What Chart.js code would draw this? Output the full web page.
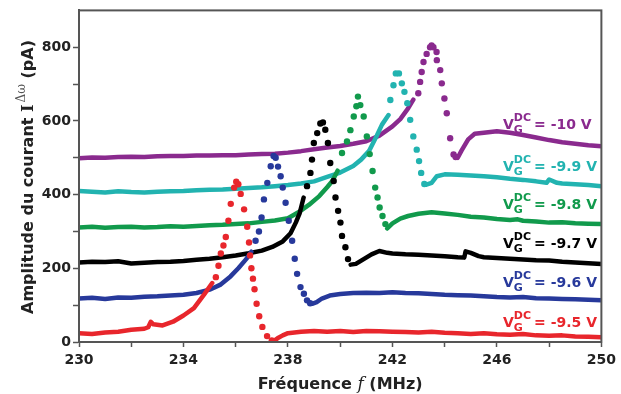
<!DOCTYPE html>
<html>
<head>
<meta charset="utf-8">
<script src="https://cdn.jsdelivr.net/npm/chart.js@4.4.1/dist/chart.umd.min.js"></script>
<style>
  html, body { margin: 0; padding: 0; background: #fff; }
  #wrap { width: 621px; height: 394px; position: relative; }
</style>
</head>
<body>
<div id="wrap"><canvas id="respChart"></canvas></div>
<script>
// frequency axis (MHz) and amplitude axis (pA)
const freqMin = 230, freqMax = 250;
const ampMin = 0, ampMax = 900;

// gate voltages, one curve each
const voltages = ['-9.5 V', '-9.6 V', '-9.7 V', '-9.8 V', '-9.9 V', '-10 V'];
const colors = ['#e8262c', '#27399b', '#000000', '#119a4c', '#22b3b0', '#8a2a8e'];

// [f, amplitude] ; third value 1 = isolated measured dot (fast sweep region)
const vg95 = [
  [230,24],[230.5,22],[231,26],[231.5,28],[232,33],[232.5,36],[232.65,40],[232.75,55],[232.85,48],[233.2,45],
  [233.6,55],[234,72],[234.4,92],[234.8,130],[235.1,160],
  [235.24,176,1],[235.34,207,1],[235.43,240,1],[235.53,262,1],[235.62,285,1],[235.72,329,1],[235.81,375,1],
  [235.94,419,1],[236.02,435,1],[236.1,428,1],[236.19,402,1],[236.32,360,1],[236.44,313,1],[236.51,270,1],
  [236.55,235,1],[236.6,200,1],[236.66,172,1],[236.72,143,1],[236.8,104,1],[236.9,70,1],[237.02,41,1],
  [237.2,16,1],[237.38,4,1],
  [237.46,3],[237.6,10],[237.8,18],[238,24],[238.5,28],[239,30],[239.5,28],[240,30],[240.5,27],[241,30],
  [241.5,29],[242,28],[242.5,27],[243,26],[243.5,28],[244,25],[244.5,24],[245,22],[245.5,24],[246,21],
  [246.5,20],[247,22],[247.5,18],[248,17],[248.5,18],[249,15],[249.5,14],[250,13]
];
const vg96 = [
  [230,118],[230.5,120],[231,117],[231.5,121],[232,120],[232.5,123],[233,124],[233.5,126],[234,128],[234.5,133],
  [235,142],[235.4,155],[235.8,178],[236.1,200],[236.4,225],[236.6,245],
  [236.76,275,1],[236.89,300,1],[236.99,338,1],[237.08,387,1],[237.21,432,1],[237.34,477,1],[237.45,505,1],
  [237.53,500,1],[237.62,476,1],[237.72,450,1],[237.8,419,1],[237.91,378,1],[238.03,329,1],[238.16,275,1],
  [238.26,226,1],[238.35,185,1],[238.48,149,1],[238.61,131,1],[238.73,113,1],[238.85,105,1],
  [238.95,104],[239.1,108],[239.3,118],[239.6,126],[240,130],[240.5,133],[241,134],[241.5,133],[242,135],
  [242.5,133],[243,132],[243.5,130],[244,128],[244.5,127],[245,126],[245.5,124],[246,122],[246.5,121],
  [247,122],[247.5,119],[248,118],[248.5,117],[249,116],[249.5,115],[250,113]
];
const vg97 = [
  [230,216],[230.5,218],[231,217],[231.5,219],[232,213],[232.5,215],[233,217],[233.5,218],[234,220],[234.5,223],
  [235,226],[235.5,230],[236,235],[236.5,241],[237,248],[237.4,258],[237.8,273],[238.1,295],[238.3,324],
  [238.45,350],[238.6,392],
  [238.73,423,1],[238.86,459,1],[238.92,495,1],[238.99,540,1],[239.12,567,1],[239.24,593,1],[239.34,596,1],
  [239.43,576,1],[239.53,540,1],[239.62,486,1],[239.75,437,1],[239.82,392,1],[239.92,356,1],[240.01,324,1],
  [240.07,288,1],[240.2,257,1],[240.3,225,1],
  [240.4,210],[240.6,212],[240.9,225],[241.2,238],[241.5,247],[241.8,242],[242,240],[242.5,238],[243,237],
  [243.5,235],[244,233],[244.5,230],[244.75,229],[244.8,246],[245,242],[245.3,233],[245.5,230],[246,228],
  [246.5,226],[247,224],[247.5,222],[248,221],[248.5,218],[249,216],[249.5,214],[250,212]
];
const vg98 = [
  [230,311],[230.5,313],[231,310],[231.5,312],[232,313],[232.5,311],[233,312],[233.5,314],[234,313],[234.5,315],
  [235,317],[235.5,318],[236,320],[236.5,322],[237,326],[237.5,330],[238,336],[238.4,352],[238.8,372],
  [239.2,396],[239.5,420],[239.7,437],[239.9,465],
  [240.07,513,1],[240.26,544,1],[240.39,575,1],[240.52,612,1],[240.62,640,1],[240.68,666,1],[240.77,643,1],
  [240.9,612,1],[241.02,558,1],[241.13,510,1],[241.24,464,1],[241.34,419,1],[241.43,392,1],[241.51,365,1],
  [241.62,342,1],[241.73,320,1],
  [241.8,308],[242,322],[242.3,335],[242.6,342],[243,348],[243.5,352],[244,349],[244.5,345],[245,340],
  [245.5,338],[246,334],[246.5,331],[246.8,333],[247,329],[247.5,327],[248,324],[248.5,325],[249,322],
  [249.5,321],[250,320]
];
const vg99 = [
  [230,410],[230.5,408],[231,406],[231.5,409],[232,407],[232.5,406],[233,408],[233.5,409],[234,410],[234.5,412],
  [235,413],[235.5,414],[236,416],[236.5,418],[237,420],[237.5,423],[238,426],[238.5,430],[239,436],
  [239.5,448],[240,460],[240.5,478],[240.8,495],[241.1,518],[241.4,560],[241.6,590],[241.85,616],
  [241.92,657,1],[242.04,697,1],[242.13,729,1],[242.25,729,1],[242.36,702,1],[242.46,679,1],[242.57,648,1],
  [242.68,603,1],[242.8,558,1],[242.93,522,1],[243.02,491,1],[243.1,459,1],[243.22,429,1],
  [243.3,427],[243.5,432],[243.7,450],[244,455],[244.5,454],[245,452],[245.5,450],[246,447],[246.5,443],
  [247,440],[247.5,436],[247.9,432],[248,441],[248.3,432],[248.5,430],[249,428],[249.5,426],[250,423]
];
const vg100 = [
  [230,499],[230.5,501],[231,500],[231.5,502],[232,503],[232.5,502],[233,504],[233.5,505],[234,505],[234.5,506],
  [235,506],[235.5,507],[236,507],[236.5,509],[237,510],[237.5,511],[238,514],[238.5,518],[239,523],
  [239.5,528],[240,532],[240.5,538],[241,545],[241.5,560],[242,585],[242.3,605],[242.6,634],[242.8,658],
  [242.99,675,1],[243.06,706,1],[243.12,733,1],[243.19,760,1],[243.31,782,1],[243.44,800,1],[243.5,805,1],
  [243.57,800,1],[243.69,787,1],[243.7,765,1],[243.83,738,1],[243.89,702,1],[243.99,661,1],[244.08,621,1],
  [244.21,553,1],[244.34,509,1],[244.42,502,1],
  [244.5,500],[244.65,520],[244.9,550],[245.15,565],[245.5,568],[246,572],[246.5,568],[247,562],[247.5,555],
  [248,548],[248.5,542],[249,538],[249.5,534],[250,531]
];
const curves = [vg95, vg96, vg97, vg98, vg99, vg100];

// where the right-hand voltage labels sit (pA)
const labelAmp = [40, 148, 255, 362, 465, 578];

const FONT = "'DejaVu Sans', Verdana, sans-serif";

const datasets = curves.map((c, i) => {
  const pts = c.map(p => ({ x: p[0], y: p[1], dot: p[2] === 1 }));
  return {
    label: voltages[i],
    data: pts,
    showLine: true,
    borderColor: colors[i],
    backgroundColor: colors[i],
    borderWidth: 4.5,
    borderJoinStyle: 'round',
    borderCapStyle: 'round',
    tension: 0,
    pointRadius: ctx => (pts[ctx.dataIndex] && pts[ctx.dataIndex].dot) ? 3.2 : 0,
    pointBorderWidth: 0,
    pointBackgroundColor: colors[i],
    segment: {
      borderColor: s => (pts[s.p0DataIndex].dot || pts[s.p1DataIndex].dot) ? 'rgba(0,0,0,0)' : colors[i]
    }
  };
});

const decorations = {
  id: 'decorations',
  afterDatasetsDraw(chart) {
    const { ctx, chartArea: a, scales } = chart;
    ctx.save();
    // frame
    ctx.strokeStyle = '#555';
    ctx.lineWidth = 2;
    ctx.strokeRect(a.left, a.top, a.right - a.left, a.bottom - a.top);

    // voltage labels
    voltages.forEach((v, i) => {
      const x0 = 503;
      const y = scales.y.getPixelForValue(labelAmp[i]);
      ctx.fillStyle = colors[i];
      ctx.textBaseline = 'alphabetic';
      ctx.textAlign = 'left';
      ctx.font = 'bold 14px ' + FONT;
      ctx.fillText('V', x0, y);
      const vw = ctx.measureText('V').width;
      ctx.font = 'bold 11px ' + FONT;
      ctx.fillText('DC', x0 + vw, y - 8);
      ctx.fillText('G', x0 + vw, y + 4);
      const dw = ctx.measureText('DC').width;
      ctx.font = 'bold 14px ' + FONT;
      ctx.fillText('= ' + v, x0 + vw + dw + 3, y);
    });

    // x title
    ctx.fillStyle = '#222';
    ctx.textAlign = 'left';
    const p1 = 'Fréquence ', p3 = ' (MHz)';
    ctx.font = 'bold 16px ' + FONT;
    const w1 = ctx.measureText(p1).width, w3 = ctx.measureText(p3).width;
    ctx.font = 'italic 17px "DejaVu Serif", serif';
    const w2 = ctx.measureText('f').width;
    let xs = (a.left + a.right) / 2 - (w1 + w2 + w3) / 2;
    const yb = 389;
    ctx.font = 'bold 16px ' + FONT;
    ctx.fillText(p1, xs, yb);
    ctx.font = 'italic 17px "DejaVu Serif", serif';
    ctx.fillText('f', xs + w1, yb);
    ctx.font = 'bold 16px ' + FONT;
    ctx.fillText(p3, xs + w1 + w2, yb);

    // y title (rotated)
    ctx.translate(33, 177);
    ctx.rotate(-Math.PI / 2);
    const q1 = 'Amplitude du courant ', q4 = ' (pA)';
    ctx.font = 'bold 16px ' + FONT;
    const u1 = ctx.measureText(q1).width, u4 = ctx.measureText(q4).width;
    ctx.font = 'bold 16px "DejaVu Serif", serif';
    const u2 = ctx.measureText('I').width + 2;
    ctx.font = '12px "DejaVu Serif", serif';
    const u3 = ctx.measureText('Δω').width;
    let s = -(u1 + u2 + u3 + u4) / 2;
    ctx.font = 'bold 16px ' + FONT;
    ctx.fillText(q1, s, 0);
    ctx.font = 'bold 16px "DejaVu Serif", serif';
    ctx.fillText('I', s + u1, 0);
    ctx.font = '12px "DejaVu Serif", serif';
    ctx.fillStyle = '#555';
    ctx.fillText('Δω', s + u1 + u2, -8);
    ctx.fillStyle = '#222';
    ctx.font = 'bold 16px ' + FONT;
    ctx.fillText(q4, s + u1 + u2 + u3, 0);
    ctx.restore();
  }
};

new Chart(document.getElementById('respChart'), {
  type: 'scatter',
  data: { datasets },
  options: {
    responsive: true,
    maintainAspectRatio: false,
    animation: false,
    layout: { padding: { left: 0, top: 7, right: 17, bottom: 0 } },
    plugins: { legend: { display: false }, tooltip: { enabled: false } },
    scales: {
      x: {
        type: 'linear',
        min: freqMin, max: freqMax,
        afterFit: s => { s.height = 52; },
        border: { display: true, color: '#555', width: 2 },
        grid: { drawOnChartArea: false, drawTicks: true, tickLength: 5, tickColor: '#555', tickWidth: 1.5 },
        ticks: {
          stepSize: 2, autoSkip: false, maxRotation: 0, padding: 5,
          color: '#222', font: { family: FONT, size: 14, weight: 'bold' },
          callback: v => ((v - freqMin) % 4 === 0 ? v : '')
        }
      },
      y: {
        min: ampMin, max: ampMax,
        afterFit: s => { s.width = 79; },
        afterBuildTicks: s => { s.ticks = s.ticks.filter(t => t.value < ampMax); },
        border: { display: true, color: '#555', width: 2 },
        grid: { drawOnChartArea: false, drawTicks: true, tickLength: 6, tickColor: '#555', tickWidth: 1.5 },
        ticks: {
          stepSize: 100, autoSkip: false, padding: 2,
          color: '#222', font: { family: FONT, size: 14, weight: 'bold' },
          callback: v => (v % 200 === 0 ? v : '')
        }
      }
    }
  },
  plugins: [decorations]
});
</script>
</body>
</html>
